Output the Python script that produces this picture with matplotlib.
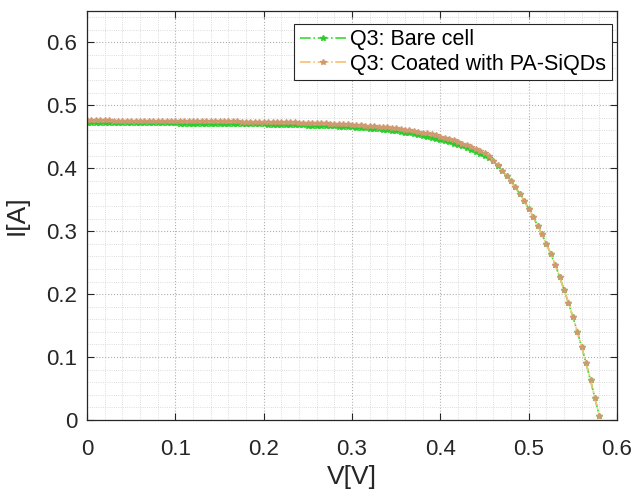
import numpy as np
import matplotlib.pyplot as plt
from matplotlib.ticker import MultipleLocator

# I-V curves (step 5 mV)
V = [0.000, 0.005, 0.010, 0.015, 0.020, 0.025, 0.030, 0.035, 0.040, 0.045,
     0.050, 0.055, 0.060, 0.065, 0.070, 0.075, 0.080, 0.085, 0.090, 0.095,
     0.100, 0.105, 0.110, 0.115, 0.120, 0.125, 0.130, 0.135, 0.140, 0.145,
     0.150, 0.155, 0.160, 0.165, 0.170, 0.175, 0.180, 0.185, 0.190, 0.195,
     0.200, 0.205, 0.210, 0.215, 0.220, 0.225, 0.230, 0.235, 0.240, 0.245,
     0.250, 0.255, 0.260, 0.265, 0.270, 0.275, 0.280, 0.285, 0.290, 0.295,
     0.300, 0.305, 0.310, 0.315, 0.320, 0.325, 0.330, 0.335, 0.340, 0.345,
     0.350, 0.355, 0.360, 0.365, 0.370, 0.375, 0.380, 0.385, 0.390, 0.395,
     0.400, 0.405, 0.410, 0.415, 0.420, 0.425, 0.430, 0.435, 0.440, 0.445,
     0.450, 0.455, 0.460, 0.465, 0.470, 0.475, 0.480, 0.485, 0.490, 0.495,
     0.500, 0.505, 0.510, 0.515, 0.520, 0.525, 0.530, 0.535, 0.540, 0.545,
     0.550, 0.555, 0.560, 0.565, 0.570, 0.575, 0.580]

I_bare = [0.4720, 0.4720, 0.4720, 0.4720, 0.4719, 0.4719, 0.4718, 0.4718, 0.4717, 0.4717,
          0.4716, 0.4716, 0.4715, 0.4715, 0.4714, 0.4714, 0.4713, 0.4713, 0.4712, 0.4712,
          0.4711, 0.4710, 0.4710, 0.4709, 0.4709, 0.4708, 0.4707, 0.4707, 0.4706, 0.4705,
          0.4704, 0.4703, 0.4703, 0.4702, 0.4701, 0.4700, 0.4699, 0.4698, 0.4697, 0.4696,
          0.4695, 0.4694, 0.4692, 0.4691, 0.4690, 0.4688, 0.4687, 0.4685, 0.4683, 0.4681,
          0.4679, 0.4677, 0.4675, 0.4672, 0.4670, 0.4667, 0.4664, 0.4661, 0.4657, 0.4653,
          0.4649, 0.4645, 0.4640, 0.4635, 0.4629, 0.4623, 0.4617, 0.4610, 0.4602, 0.4594,
          0.4585, 0.4576, 0.4566, 0.4555, 0.4543, 0.4530, 0.4517, 0.4502, 0.4486, 0.4470,
          0.4452, 0.4433, 0.4413, 0.4392, 0.4370, 0.4346, 0.4320, 0.4293, 0.4264, 0.4233,
          0.4200, 0.4165, 0.4110, 0.4040, 0.3960, 0.3875, 0.3790, 0.3695, 0.3590, 0.3478,
          0.3360, 0.3230, 0.3090, 0.2948, 0.2800, 0.2640, 0.2470, 0.2275, 0.2070, 0.1860,
          0.1640, 0.1405, 0.1160, 0.0900, 0.0630, 0.0345, 0.0060]

I_coated = [0.4760, 0.4760, 0.4760, 0.4760, 0.4759, 0.4759, 0.4758, 0.4758, 0.4757, 0.4757,
            0.4756, 0.4756, 0.4755, 0.4755, 0.4754, 0.4754, 0.4753, 0.4753, 0.4752, 0.4752,
            0.4751, 0.4751, 0.4750, 0.4750, 0.4749, 0.4749, 0.4748, 0.4748, 0.4747, 0.4746,
            0.4746, 0.4745, 0.4744, 0.4743, 0.4743, 0.4742, 0.4741, 0.4740, 0.4739, 0.4738,
            0.4737, 0.4736, 0.4735, 0.4733, 0.4732, 0.4730, 0.4729, 0.4727, 0.4725, 0.4723,
            0.4721, 0.4719, 0.4717, 0.4714, 0.4712, 0.4709, 0.4706, 0.4703, 0.4700, 0.4696,
            0.4692, 0.4688, 0.4684, 0.4679, 0.4674, 0.4668, 0.4662, 0.4655, 0.4648, 0.4640,
            0.4632, 0.4623, 0.4613, 0.4602, 0.4591, 0.4579, 0.4566, 0.4552, 0.4537, 0.4521,
            0.4503, 0.4484, 0.4463, 0.4441, 0.4418, 0.4393, 0.4366, 0.4337, 0.4306, 0.4273,
            0.4238, 0.4190, 0.4120, 0.4045, 0.3962, 0.3876, 0.3790, 0.3695, 0.3590, 0.3478,
            0.3360, 0.3230, 0.3090, 0.2948, 0.2800, 0.2640, 0.2470, 0.2275, 0.2070, 0.1860,
            0.1640, 0.1405, 0.1160, 0.0900, 0.0630, 0.0345, 0.0060]

plt.rcParams['font.family'] = ['Liberation Sans', 'DejaVu Sans']

fig = plt.figure(figsize=(6.32, 4.95), dpi=100)
ax = fig.add_axes([0.1377, 0.1515, 0.8386, 0.8265])

ax.plot(V, I_bare, color='#33dd33', linestyle='-.', linewidth=1.2,
        marker='*', markersize=4, markerfacecolor='#2ccc2c',
        markeredgecolor='#2ccc2c', label='Q3: Bare cell')
ax.plot(V, I_coated, color='#f8c070', linestyle='-.', linewidth=1.2,
        marker='*', markersize=4, markerfacecolor='#d09a70',
        markeredgecolor='#d09a70', label='Q3: Coated with PA-SiQDs')

ax.set_xlim(0, 0.6)
ax.set_ylim(0, 0.65)
ax.xaxis.set_minor_locator(MultipleLocator(0.02))
ax.yaxis.set_minor_locator(MultipleLocator(0.02))
ax.set_xticks([0, 0.1, 0.2, 0.3, 0.4, 0.5, 0.6])
ax.set_xticklabels(['0', '0.1', '0.2', '0.3', '0.4', '0.5', '0.6'])
ax.set_yticks([0, 0.1, 0.2, 0.3, 0.4, 0.5, 0.6])
ax.set_yticklabels(['0', '0.1', '0.2', '0.3', '0.4', '0.5', '0.6'])

ax.grid(which='major', color='#b0b0b0', linestyle=':', linewidth=0.8)
ax.grid(which='minor', color='#d0d0d0', linestyle=':', linewidth=0.6)
ax.set_axisbelow(True)

ax.tick_params(which='major', direction='in', length=5, width=0.8,
               top=True, right=True, labelsize=16, colors='#262626')
ax.tick_params(axis='x', which='major', pad=14)
ax.tick_params(axis='y', which='major', pad=7)
ax.tick_params(which='minor', length=0, top=True, right=True)
for s in ax.spines.values():
    s.set_color('#262626')
    s.set_linewidth(0.9)

ax.set_xlabel('V[V]', fontsize=19, color='#262626', labelpad=3)
ax.set_ylabel('I[A]', fontsize=19, color='#262626', labelpad=13)

leg = ax.legend(loc='upper right', bbox_to_anchor=(0.99, 0.968),
                fontsize=15.5, fancybox=False,
                framealpha=1, edgecolor='#262626', borderaxespad=0,
                handlelength=2.2, handletextpad=0.15, borderpad=0.25,
                labelspacing=0.15)
leg.get_frame().set_linewidth(0.8)

plt.savefig('out.png', dpi=100)
